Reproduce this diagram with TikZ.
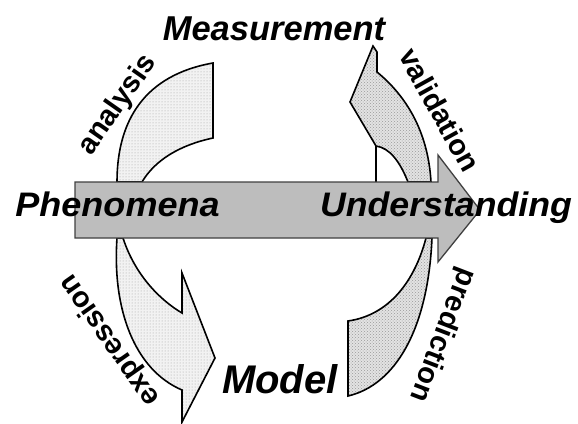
\documentclass[tikz,border=0pt]{standalone}
\usepackage{fontspec}
\setmainfont{Liberation Sans}
\usetikzlibrary{patterns}
\begin{document}
\begin{tikzpicture}[x=1pt,y=-1pt,
  lightarrow/.style={preaction={fill=gray!10}, pattern=dots, pattern color=gray!75, draw=black, line width=1.6pt, line join=miter},
  darkarrow/.style={preaction={fill=gray!22}, pattern=crosshatch dots, pattern color=gray!80, draw=black, line width=1.6pt, line join=miter},
  mainarrow/.style={fill=gray!52, draw=black!75, line width=1.3pt, line join=miter},
  bigtxt/.style={inner sep=0pt, anchor=base, font=\bfseries\itshape},
  lbl/.style={inner sep=0pt, font=\fontsize{29}{32}\selectfont\bfseries}
]
\useasboundingbox (0,0) rectangle (578,423);

% analysis arrow (top left)
\path[lightarrow] (117,182) .. controls (117,120) and (145,75) .. (213,63)
  -- (213,138) .. controls (180,145) and (155,160) .. (142,182) -- cycle;

% expression arrow (bottom left)
\path[lightarrow] (117,238) -- (123,238) .. controls (135,275) and (160,300) .. (182,313)
  -- (182,273) -- (215,358) -- (182,422) -- (182,390)
  .. controls (135,370) and (112,310) .. (117,238) -- cycle;

% validation arrow (top right)
\path[darkarrow] (373,46) -- (377,52) -- (377,72)
  .. controls (405,95) and (428,130) .. (431,182) -- (408,182)
  .. controls (400,162) and (390,148) .. (376,146) -- (350,102) -- cycle;
\coordinate (vb1) at (376,146);
\coordinate (vb2) at (376,182);
\draw[black, line width=1.6pt] (vb1) -- (vb2);

% prediction arrow (bottom right)
\path[darkarrow] (426,238) .. controls (415,280) and (390,315) .. (348,321)
  -- (348,396) .. controls (395,385) and (428,330) .. (432,238) -- cycle;

% main arrow
\path[mainarrow] (75,182) -- (438,182) -- (438,155) -- (480,210) -- (438,262)
  -- (438,238) -- (75,238) -- cycle;

% big labels
\node[bigtxt, font=\fontsize{34.5}{40}\selectfont\bfseries\itshape] (meas) at (274,40) {Measurement};
\node[bigtxt, font=\fontsize{34}{40}\selectfont\bfseries\itshape] (phen) at (117.5,216) {\scalebox{1.06}[1]{Phenomena}};
\node[bigtxt, font=\fontsize{34}{40}\selectfont\bfseries\itshape] (und) at (446,216) {\scalebox{1.05}[1]{Understanding}};
\node[bigtxt, font=\fontsize{40}{46}\selectfont\bfseries\itshape] (model) at (280,393) {Model};

% rotated labels
\node[lbl, rotate=55] (ana) at (118,105) {analysis};
\node[lbl, rotate=-61] (val) at (440,110) {validation};
\node[lbl, rotate=125] (expr) at (110,340) {expression};
\node[lbl, rotate=-111] (pred) at (442,335) {prediction};
\end{tikzpicture}
\end{document}
